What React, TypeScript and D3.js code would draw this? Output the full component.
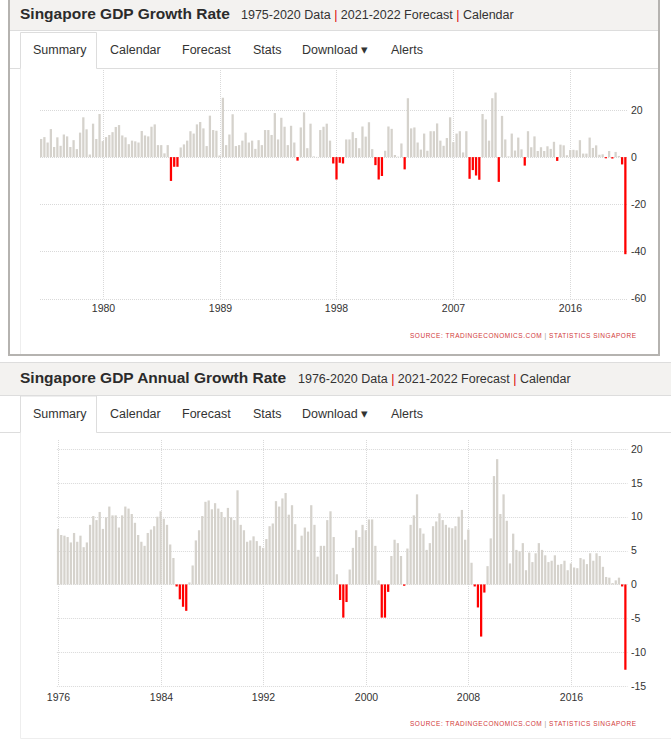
import * as d3 from "d3";
import { useEffect, useRef } from "react";

// Singapore GDP growth rate, QoQ annualised, 1975Q2 - 2020Q2
const qoqValues = [
  7.7, 8.5, 6.2, 11.9, 4.3, 8.4, 4.8, 9.6, 8.8, 4.3,
  7.2, 3.4, 10.4, 16.9, 11.8, 1.1, 14.2, 7.7, 18.3, 6.8,
  8.5, 9.4, 10.6, 12.8, 13.6, 9.2, 8.4, 5.5, 7.0, 6.7,
  6.2, 11.1, 9.2, 8.8, 12.9, 13.9, 5.1, 5.1, 1.6, 5.1,
  -10.1, -4.1, -4.1, 4.1, 5.4,
  7.0, 11.0, 10.0, 13.9, 14.9, 12.2, 4.7, 17.6, 11.5, 11.2,
  0.7, 25.2, 5.1, 9.6, 18.2, 4.7, 5.1, 7.0, 10.4, 6.2,
  7.0, 3.5, 7.2, 5.1, 11.5, 11.5, 9.4, 18.7, 7.5, 16.7,
  12.9, 5.1, 13.3, 6.2, -1.5, 12.6, 19.0, 3.8, 14.2, 0.3,
  0.1, 11.5, 12.9, 14.2,
  7.0, -2.7, -9.5, -2.4, -2.7, 7.5, 7.5, 10.6, 8.1, 3.8,
  13.0, 8.7, 14.8, 3.4, -3.4, -9.5, -8.0, 2.7, 13.0, 12.0,
  0.9, 0.2, 5.8, -5.2, 25.0, 12.2, 12.6, 6.2, 3.2, 10.0,
  2.7, 11.0, 11.0, 14.3, 7.0, 4.8, 8.1, 16.9, 6.4, 10.0,
  11.0, 2.0, 11.0, -9.2, -5.5, -7.8, -9.6, 18.3, 16.0, 7.0,
  25.0, 27.4, -10.5, 17.5, 7.5, 0.3, 10.0, 2.8, 8.3, 3.3,
  -3.6, 11.0, 4.2, 8.8, 2.6, 4.2, 2.6, 4.6, 3.5, 6.5,
  -1.6, 5.3, 5.0, 0.8, 3.0, 3.1, 2.9, 7.2, 1.5, 1.5,
  8.3, 3.9, 5.0, 1.0, 1.2, -0.5, 2.6, -0.6, 2.2, 0.5,
  -3.1, -41.2,
];

// Singapore GDP annual growth rate, YoY, 1976Q1 - 2020Q2
const yoyValues = [
  8.2, 7.3, 7.2, 7.0, 6.2, 7.6, 6.3, 7.2, 5.5, 6.2,
  8.8, 10.1, 9.5, 10.7, 8.2, 9.9, 11.5, 10.2, 10.2, 8.4,
  10.2, 11.5, 11.2, 10.4, 9.1, 7.3, 6.3, 5.7, 7.6, 8.1,
  8.6, 10.0, 10.8, 9.7, 8.8, 5.9, 3.9, -0.3, -2.2, -3.3,
  -3.9, 0.3, 2.8, 6.5, 8.0, 10.1, 12.2, 12.4, 11.1, 12.0,
  11.2, 10.7, 9.9, 11.3, 9.9, 9.5, 13.9,
  8.8, 8.0, 6.3, 6.5, 7.1, 6.4, 5.7, 5.4, 6.7, 8.6,
  9.0, 12.3, 11.5, 12.7, 13.5, 10.3, 11.7, 8.9, 5.1, 7.2,
  8.4, 7.8, 11.7, 8.8, 4.1, 5.7, 5.7, 9.5, 10.8, 7.0,
  1.5, -2.3, -4.9, -2.6, 2.2, 5.4, 8.0, 7.0, 8.8, 8.0,
  9.6, 9.6, 5.7, 0.6, -4.9, -4.9, -1.1, 4.2, 6.6, 6.1,
  4.2, -0.2, 5.3, 8.8, 10.2, 13.3, 8.3, 7.5, 5.1, 6.1,
  8.6, 9.3,
  10.5, 9.5, 8.8, 8.4, 8.3, 8.6, 10.0, 11.0, 6.6, 8.1,
  3.2, -0.3, -3.4, -7.7, -1.2, 2.7, 6.8, 16.0, 18.5, 10.4,
  13.3, 9.4, 3.1, 7.5, 5.1, 4.9, 6.1, 2.1, 4.7, 3.3,
  4.6, 6.1, 5.1, 4.3, 3.3, 3.5, 4.3, 2.9, 3.0, 3.5,
  2.1, 3.1, 2.5, 2.4, 3.9, 3.7, 3.0, 4.6, 3.5, 4.6,
  4.2, 2.6, 1.1, 1.0, 0.2, 0.6, 1.0, -0.3, -12.6,
];

const quarterLabels = (startYear: number, startQ: number, n: number) =>
  d3.range(n).map((i) => {
    const q = startQ - 1 + i;
    return `${startYear + Math.floor(q / 4)}Q${(q % 4) + 1}`;
  });

const qoqQuarters = quarterLabels(1975, 2, qoqValues.length);
const yoyQuarters = quarterLabels(1976, 1, yoyValues.length);

const qoqTickYears = ["1980", "1989", "1998", "2007", "2016"];
const yoyTickYears = ["1976", "1984", "1992", "2000", "2008", "2016"];
const qoqYTicks = [20, 0, -20, -40, -60];
const yoyYTicks = [20, 15, 10, 5, 0, -5, -10, -15];

const tabs = ["Summary", "Calendar", "Forecast", "Stats", "Download", "Alerts"];
const tabX = [33, 110, 182, 253, 302, 391];

const FONT = '"Liberation Sans", Arial, Helvetica, sans-serif';
const BAR_GRAY = "#d5d2cc";
const BAR_RED = "#ff0000";
const GRID = "#d9d9d9";

interface ChartProps {
  values: number[];
  quarters: string[];
  xTicks: string[];
  yTicks: number[];
  yDomain: [number, number];
  left: number;
  right: number;
  top: number;
  bottom: number;
  gridTop: number;
  labelY: number;
}

const BarChart: React.FC<ChartProps> = ({
  values, quarters, xTicks, yTicks, yDomain, left, right, top, bottom, gridTop, labelY,
}) => {
  const gRef = useRef<SVGGElement | null>(null);

  useEffect(() => {
    const g = d3.select(gRef.current);
    g.selectAll("*").remove();

    const x = d3.scaleBand().domain(quarters).range([left, right]).paddingInner(0.3).paddingOuter(0);
    const y = d3.scaleLinear().domain(yDomain).range([bottom, top]);
    const tickX = (yr: string) => Math.round(x(`${yr}Q1`)! + x.bandwidth() / 2) + 0.5;

    // grid
    g.append("g")
      .selectAll("line")
      .data(yTicks)
      .join("line")
      .attr("x1", left)
      .attr("x2", right + 1)
      .attr("y1", (d) => Math.round(y(d)) + 0.5)
      .attr("y2", (d) => Math.round(y(d)) + 0.5)
      .attr("stroke", GRID)
      .attr("stroke-dasharray", "1,1");

    g.append("g")
      .selectAll("line")
      .data(xTicks)
      .join("line")
      .attr("x1", tickX)
      .attr("x2", tickX)
      .attr("y1", gridTop)
      .attr("y2", y(yDomain[0]))
      .attr("stroke", GRID)
      .attr("stroke-dasharray", "1,1");

    // bars
    g.append("g")
      .selectAll("rect")
      .data(values)
      .join("rect")
      .attr("x", (_, i) => x(quarters[i])!)
      .attr("width", x.bandwidth())
      .attr("y", (d) => y(Math.max(0, d)))
      .attr("height", (d) => Math.abs(y(d) - y(0)))
      .attr("fill", (d) => (d < 0 ? BAR_RED : BAR_GRAY));

    // right axis labels
    g.append("g")
      .selectAll("text")
      .data(yTicks)
      .join("text")
      .attr("x", 631)
      .attr("y", (d) => y(d))
      .attr("dy", "0.35em")
      .attr("font-size", 10.5)
      .attr("fill", "#333")
      .text((d) => d);

    // bottom labels
    g.append("g")
      .selectAll("text")
      .data(xTicks)
      .join("text")
      .attr("x", tickX)
      .attr("y", labelY)
      .attr("text-anchor", "middle")
      .attr("font-size", 10.5)
      .attr("fill", "#333")
      .text((d) => d);
  }, [values, quarters, xTicks, yTicks, yDomain, left, right, top, bottom, gridTop, labelY]);

  return <g ref={gRef} fontFamily={FONT} />;
};

const Header = ({ y, title, years, subX }: { y: number; title: string; years: string; subX: number }) => (
  <g fontFamily={FONT}>
    <text x={20} y={y} fontSize={15.5} fontWeight="bold" fill="#2b2b2b">{title}</text>
    <text x={subX} y={y} fontSize={12.5} fill="#333">
      {years} Data <tspan fill="#d00">|</tspan> 2021-2022 Forecast <tspan fill="#d00">|</tspan> Calendar
    </text>
  </g>
);

const Tabs = ({ y }: { y: number }) => (
  <g fontFamily={FONT} fontSize={12.5} fill="#333">
    {tabs.map((t, i) => (
      <text key={t} x={tabX[i]} y={y}>
        {t}
        {t === "Download" ? " \u25BE" : ""}
      </text>
    ))}
  </g>
);

const Source = ({ y }: { y: number }) => (
  <text x={410} y={y} fontFamily={FONT} fontSize={6.5} fill="#d23a3a" textLength={226} lengthAdjust="spacing">
    SOURCE: TRADINGECONOMICS.COM <tspan fill="#999">|</tspan> STATISTICS SINGAPORE
  </text>
);

export default function App() {
  return (
    <div style={{ position: "absolute", left: 0, top: 0 }}>
      <svg width={671} height={741} style={{ display: "block", background: "#fff" }}>
        {/* top screenshot */}
        <rect x={8} y={0} width={652} height={30} fill="#f3f2f0" />
        <line x1={8} x2={660} y1={30.5} y2={30.5} stroke="#ddd" />
        <Header y={19} title="Singapore GDP Growth Rate" years="1975-2020" subX={241} />
        <path d="M8,68.5H20.5V32.5H96.5V68.5H660" fill="none" stroke="#ddd" />
        <Tabs y={54} />
        <line x1={20.5} x2={20.5} y1={69} y2={355} stroke="#eee" />
        <BarChart
          values={qoqValues}
          quarters={qoqQuarters}
          xTicks={qoqTickYears}
          yTicks={qoqYTicks}
          yDomain={[-60, 20]}
          left={40}
          right={626.5}
          top={110}
          bottom={298.5}
          gridTop={70}
          labelY={312}
        />
        <Source y={338} />
        <rect x={9} y={-2} width={650} height={357} fill="none" stroke="#b5b3b0" strokeWidth={2} />

        {/* bottom screenshot */}
        <rect x={0} y={362} width={671} height={33} fill="#f3f2f0" />
        <line x1={0} x2={671} y1={362.5} y2={362.5} stroke="#ddd" />
        <line x1={0} x2={671} y1={395.5} y2={395.5} stroke="#ddd" />
        <Header y={383} title="Singapore GDP Annual Growth Rate" years="1976-2020" subX={298} />
        <path d="M0,432.5H20.5V396H96.5V432.5H671" fill="none" stroke="#ddd" />
        <Tabs y={418} />
        <path d="M20.5,433V738.5H671" fill="none" stroke="#eee" />
        <BarChart
          values={yoyValues}
          quarters={yoyQuarters}
          xTicks={yoyTickYears}
          yTicks={yoyYTicks}
          yDomain={[-15, 20]}
          left={56.9}
          right={626.5}
          top={449}
          bottom={686}
          gridTop={440}
          labelY={701}
        />
        <Source y={726} />
      </svg>
    </div>
  );
}
